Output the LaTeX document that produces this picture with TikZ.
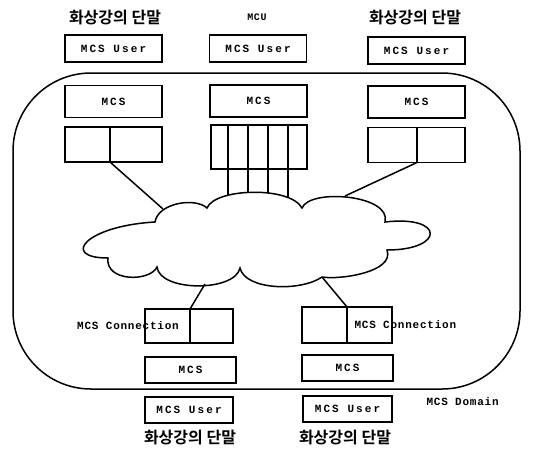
\documentclass[tikz,border=0pt]{standalone}
\usepackage{fontspec}
\usepackage{tikz}
\usetikzlibrary{positioning}
\newfontfamily\krfont[BoldFont={Noto Sans CJK KR Bold}]{Noto Sans CJK KR}
\newfontfamily\boxfont[LetterSpace=19]{Liberation Mono}
\newfontfamily\lblfont[LetterSpace=7]{Liberation Mono}

\begin{document}
\begin{tikzpicture}[x=1pt,y=-1pt,
    box/.style={draw,line width=1.5pt,outer sep=0pt,inner sep=0pt,font=\boxfont\bfseries\fontsize{11}{13}\selectfont},
    user/.style={box,minimum width=97pt,minimum height=27pt},
    mcs/.style={box,minimum width=97pt,minimum height=32pt},
    port/.style={box,minimum height=35pt},
    term/.style={font=\krfont\bfseries\fontsize{16}{18}\selectfont},
    lbl/.style={font=\lblfont\bfseries\fontsize{11}{13}\selectfont},
    link/.style={line width=1.5pt}
  ]
    \useasboundingbox (0,0) rectangle (543,451);
    % MCS domain
    \node[draw,line width=1.5pt,rounded corners=78pt,minimum width=507pt,minimum height=316pt] (domain) at (266.5,231) {};
    \node[lbl,anchor=west] (dlabel) at (423,402) {MCS Domain};

    % top: two terminals and the MCU
    \node[term] (tl) at (115,18) {화상강의 단말};
    \node[lbl,font=\lblfont\bfseries\fontsize{10}{12}\selectfont] (mcu) at (257,17) {MCU};
    \node[term] (tr) at (415,18) {화상강의 단말};
    \node[user] (ul) at (113.5,48.5) {MCS User};
    \node[user] (um) at (258,48.5) {MCS User};
    \node[user] (ur) at (416.5,50.5) {MCS User};
    \node[mcs] (ml) at (113.5,101.5) {MCS};
    \node[mcs] (mm) at (258.5,101) {MCS};
    \node[mcs] (mr) at (416.5,102) {MCS};

    % connection boxes under the top MCS
    \node[port,minimum width=45pt] (pla) at (87.5,144.5) {};
    \node[port,minimum width=52pt,right=0pt of pla] (plb) {};
    \node[port,minimum width=96pt,minimum height=44pt] (pm) at (259,147) {};
    \node[port,minimum width=49pt] (pra) at (392.5,145) {};
    \node[port,minimum width=48pt,right=0pt of pra] (prb) {};

    % network cloud
    \draw[link] (155,222) .. controls (158,203) and (195,197) .. (207,208)
      .. controls (215,188) and (290,186) .. (302,208)
      .. controls (310,188) and (392,195) .. (385,222)
      .. controls (445,215) and (445,250) .. (387,250)
      .. controls (395,272) and (340,280) .. (322,277)
      .. controls (300,292) and (245,290) .. (240,268)
      .. controls (235,292) and (160,292) .. (157,267)
      .. controls (150,282) and (105,282) .. (108,258)
      .. controls (60,258) and (85,226) .. cycle;
    \coordinate (c1) at (163,209);
    \coordinate (c2) at (345,196);
    \coordinate (c3) at (205,284);
    \coordinate (c4) at (322,277);
    \draw[link] (pla.south east) -- (c1);
    \draw[link] (pra.south east) -- (c2);
    \foreach \xx/\yy in {228/196,248/193,268/193,288/197}
      \draw[link] (\xx,125) -- (\xx,\yy);

    % bottom terminals
    \node[port,minimum width=45pt,minimum height=34pt] (bla) at (167.5,326) {};
    \node[port,minimum width=43pt,minimum height=34pt,right=0pt of bla] (blb) {};
    \node[lbl] (blt) at (128,326) {MCS Connection};
    \node[port,minimum width=45pt,minimum height=36pt] (bra) at (324.5,325) {};
    \node[port,minimum width=45pt,minimum height=36pt,right=0pt of bra] (brb) {};
    \node[lbl,anchor=west] (brt) at (351,325) {MCS Connection};
    \draw[link] (c3) -- (bla.north east);
    \draw[link] (c4) -- (bra.north east);
    \node[box,minimum width=91pt,minimum height=26pt] (bml) at (190.5,370) {MCS};
    \node[box,minimum width=91pt,minimum height=26pt] (bmr) at (347.5,368) {MCS};
    \node[box,minimum width=88pt,minimum height=26pt] (bul) at (189,410) {MCS User};
    \node[box,minimum width=89pt,minimum height=26pt] (bur) at (347.5,409) {MCS User};
    \node[term] (bl) at (190,437) {화상강의 단말};
    \node[term] (br) at (345,437) {화상강의 단말};
  \end{tikzpicture}
\end{document}
